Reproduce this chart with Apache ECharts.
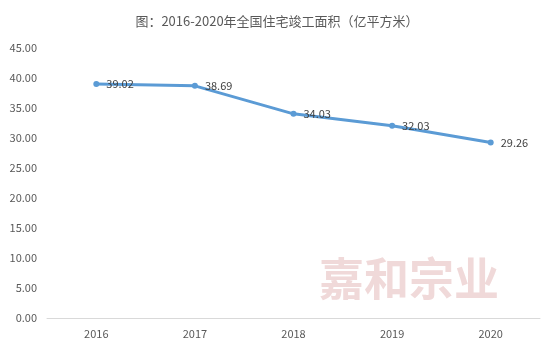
<!DOCTYPE html>
<html><head><meta charset="utf-8">
<script src="https://cdn.jsdelivr.net/npm/echarts@6/dist/echarts.min.js"></script>
<style>html,body{margin:0;padding:0;background:#fff}#c{width:554px;height:349px}</style>
</head><body><div id="c"></div>
<script>
const titleText = '图：2016-2020年全国住宅竣工面积（亿平方米）';
const categories = ['2016', '2017', '2018', '2019', '2020'];
const values = [39.02, 38.69, 34.03, 32.03, 29.26];
const watermark = '嘉和宗业';
const font = '"Noto Sans CJK SC", "Noto Sans", sans-serif';
const chart = echarts.init(document.getElementById('c'));
chart.setOption({
  animation: false,
  backgroundColor: '#fff',
  textStyle: { fontFamily: font },
  title: { text: titleText, left: 'center', top: 10,
    textStyle: { fontSize: 13, fontWeight: 'normal', color: '#595959', fontFamily: font } },
  graphic: [{ type: 'text', left: 319, top: 256, z: 0,
    style: { text: watermark, fontSize: 45, fontFamily: font, fill: '#f0d9d9', fontWeight: 'bold' } }],
  grid: { left: 47, right: 14, top: 48, bottom: 31 },
  xAxis: { type: 'category', data: categories, boundaryGap: true,
    axisLine: { lineStyle: { color: '#d9d9d9', width: 1 } }, axisTick: { show: false },
    axisLabel: { color: '#595959', fontSize: 11, margin: 10, fontFamily: font } },
  yAxis: { type: 'value', min: 0, max: 45, interval: 5,
    splitLine: { show: false }, axisLine: { show: false }, axisTick: { show: false },
    axisLabel: { color: '#595959', fontSize: 11, margin: 10, fontFamily: font,
      formatter: v => v.toFixed(2) } },
  series: [{ type: 'line', data: values, z: 3,
    lineStyle: { color: '#5b9bd5', width: 3 }, itemStyle: { color: '#5b9bd5' },
    symbol: 'circle', symbolSize: 6,
    label: { show: true, position: 'right', distance: 7, color: '#404040', fontSize: 11,
      fontFamily: font, formatter: p => p.value.toFixed(2) } }]
});
</script></body></html>
